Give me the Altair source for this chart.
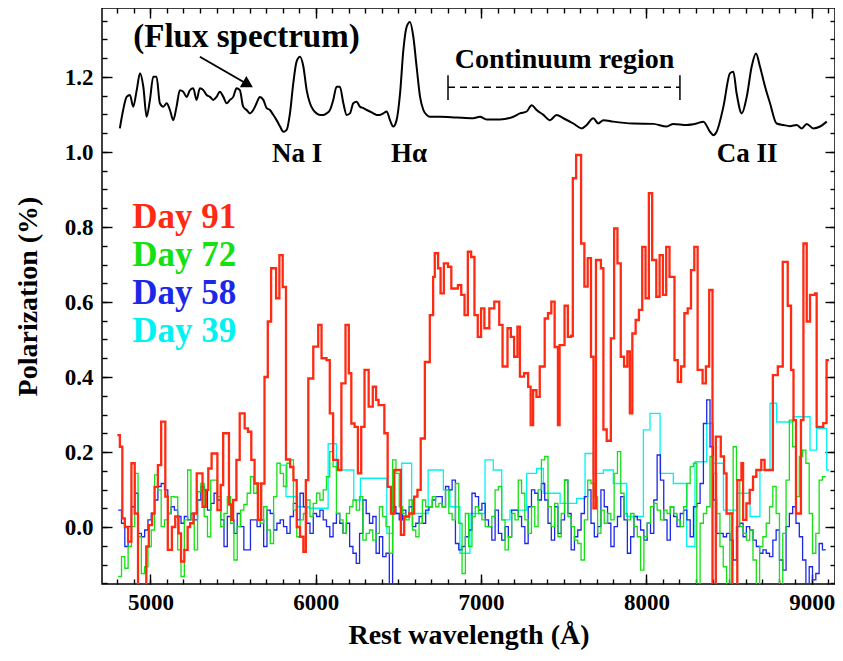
import altair as alt
import pandas as pd

FONT = "Liberation Serif"
X_DOMAIN = [4707, 9141]
Y_DOMAIN = [-0.152, 1.384]

X_MAJOR = [5000, 6000, 7000, 8000, 9000]
X_MINOR = [4800 + 100 * i for i in range(44)]
Y_MAJOR = [0.0, 0.2, 0.4, 0.6, 0.8, 1.0, 1.2]
Y_MINOR = [round(-0.15 + 0.05 * i, 2) for i in range(31)]

# Day 91 (red), irregular bins: bin start wavelength and polarization
RED_WL = [4800, 4815, 4830, 4845, 4865, 4885, 4905, 4925, 4975, 4990,
          5010, 5025, 5045, 5065, 5090, 5105, 5130, 5150, 5170, 5185,
          5205, 5225, 5240, 5260, 5280, 5315, 5335, 5350, 5370, 5405,
          5425, 5440, 5475, 5490, 5500, 5520, 5540, 5570, 5590, 5610,
          5630, 5650, 5670, 5690, 5710, 5730, 5760, 5780, 5800, 5820,
          5845, 5865, 5885, 5905, 5925, 5940, 5955, 5985, 6015, 6035,
          6065, 6085, 6105, 6135, 6155, 6180, 6200, 6215, 6235, 6255,
          6275, 6295, 6320, 6345, 6365, 6380, 6415, 6435, 6455, 6475,
          6515, 6535, 6565, 6595, 6615, 6635, 6660, 6690, 6710, 6720,
          6740, 6755, 6775, 6800, 6820, 6860, 6880, 6900, 6920, 6940,
          6960, 6980, 7000, 7020, 7050, 7080, 7110, 7130, 7160, 7180,
          7200, 7220, 7235, 7260, 7285, 7300, 7315, 7335, 7355, 7385,
          7405, 7425, 7445, 7465, 7475, 7505, 7525, 7545, 7555, 7575,
          7605, 7625, 7645, 7665, 7680, 7695, 7725, 7740, 7760, 7785,
          7805, 7825, 7845, 7865, 7885, 7900, 7915, 7935, 7955, 7975,
          7995, 8015, 8035, 8060, 8080, 8100, 8120, 8140, 8170, 8190,
          8210, 8230, 8250, 8270, 8290, 8310, 8340, 8360, 8380, 8400,
          8420, 8450, 8470, 8485, 8520, 8550, 8575, 8585, 8605, 8625,
          8645, 8665, 8695, 8715, 8765, 8795, 8825, 8855, 8875, 8890,
          8905, 8935, 8950, 8970, 8990, 9020, 9030, 9070, 9090, 9105]
RED_POL = [0.245, 0.214, 0.023, 0.0, -0.039, 0.17, 0.036, -0.2, -0.052, 0.005,
           0.036, 0.107, 0.165, 0.281, 0.081, -0.061, 0.0, 0.028, -0.017, -0.092,
           -0.061, 0.0, 0.01, 0.036, 0.143, 0.054, 0.099, 0.156, 0.196, 0.045,
           0.112, 0.25, 0.06, 0.019, 0.072, 0.179, 0.303, 0.263, 0.254, 0.179,
           0.116, 0.019, 0.116, 0.40, 0.548, 0.69, 0.61, 0.725, 0.64, 0.18,
           0.16, 0.125, 0.0, -0.026, -0.066, 0.125, 0.396, 0.481, 0.539, 0.45,
           0.445, 0.303, 0.179, 0.152, 0.383, 0.539, 0.41, 0.276, 0.267, 0.143,
           0.267, 0.419, 0.321, 0.374, 0.339, 0.325, 0.25, 0.107, 0.036, 0.152,
           -0.021, 0.028, 0.036, 0.081, 0.099, 0.236, 0.44, 0.565, 0.667, 0.73,
           0.69, 0.623, 0.703, 0.694, 0.636, 0.645, 0.619, 0.565, 0.734, 0.72,
           0.565, 0.507, 0.583, 0.53, 0.583, 0.601, 0.539, 0.428, 0.53, 0.507,
           0.454, 0.534, 0.401, 0.41, 0.374, 0.272, 0.365, 0.347, 0.428, 0.556,
           0.57, 0.601, 0.48, 0.272, 0.485, 0.59, 0.507, 0.51, 0.93, 0.992,
           0.756, 0.641, 0.717, 0.454, 0.05, 0.712, 0.69, 0.26, 0.23, 0.503,
           0.796, 0.703, 0.454, 0.428, 0.468, 0.303, 0.516, 0.552, 0.579, 0.747,
           0.61, 0.89, 0.712, 0.614, 0.725, 0.619, 0.747, 0.667, 0.445, 0.387,
           0.428, 0.57, 0.583, 0.685, 0.747, 0.419, 0.383, 0.428, 0.632, -0.2,
           0.241, 0.188, 0.143, 0.036, -0.2, 0.125, 0.17, 0.019, 0.063, 0.099,
           0.134, 0.152, 0.179, 0.152, 0.405, 0.428, 0.707, 0.59, 0.419, 0.285,
           0.036, 0.285, 0.756, 0.548, 0.619, 0.623, 0.267, 0.277, 0.445, 0.445]

# Day 72 (green) and Day 58 (blue): 20 A bins starting at 4805 A
GRID_START = 4805
GRID_STEP = 20
GREEN_POL = [-0.132, -0.079, -0.110, -0.052, 0.001, 0.143, -0.026, -0.124, -0.106, -0.052,
             -0.008, 0.139, 0.099, 0.001, 0.019, 0.036, 0.081, 0.080, -0.061, -0.132,
             0.019, 0.152, 0.019, -0.061, 0.094, 0.116, 0.028, -0.026, 0.125, 0.125,
             0.081, 0.001, 0.036, 0.081, 0.010, -0.088, 0.001, 0.045, 0.060, 0.090,
             0.134, 0.090, 0.116, 0.010, 0.054, -0.008, -0.044, 0.081, 0.170, 0.143,
             0.108, 0.170, 0.179, 0.045, -0.026, 0.019, 0.036, 0.072, 0.028, 0.063,
             0.090, 0.072, 0.099, 0.134, 0.201, 0.161, 0.036, 0.019, -0.017, 0.036,
             0.054, 0.072, 0.045, 0.081, -0.035, -0.017, -0.008, -0.035, -0.017, 0.054,
             0.028, 0.001, -0.070, 0.179, 0.143, 0.054, 0.036, 0.019, 0.072, -0.008,
             -0.026, 0.010, 0.072, 0.054, 0.054, 0.081, 0.054,
             0.063, 0.054, 0.099, 0.036, 0.019, 0.116, 0.010, -0.124, 0.036, -0.052,
             0.028, 0.054, 0.036, 0.019, 0.001, 0.001, 0.028, 0.099, 0.108, 0.019,
             -0.061, -0.026, 0.036, 0.019, 0.125, 0.090, 0.019, -0.017, 0.054, 0.001,
             0.099, 0.179, 0.188, 0.054, 0.001, 0.063, -0.026, 0.036, 0.125, 0.028,
             0.001, -0.035, -0.044, -0.088, 0.019, 0.125, 0.116, 0.081, -0.017, 0.045,
             0.010, 0.036, 0.019, 0.143, 0.201, 0.090, 0.036, 0.019, 0.036, 0.001,
             -0.026, -0.115, -0.026, 0.010, 0.054, 0.063, 0.045, 0.019, 0.045, 0.036,
             0.054, 0.036, 0.019, 0.001, 0.054, 0.116, 0.161, 0.170, -0.170, 0.010,
             0.036, 0.054, 0.188, 0.143, 0.036, -0.052, -0.106, -0.160, 0.036, 0.214,
             0.125, 0.001, -0.017, -0.035, -0.008, -0.088, -0.160, -0.052, -0.026, 0.010,
             0.054, 0.108, 0.036, -0.160, -0.017, 0.125, 0.285, 0.214, 0.081, 0.188,
             0.205, 0.170, 0.036, -0.070, -0.017, 0.125, 0.134]
BLUE_POL = [0.045, 0.010, -0.052, 0.001, 0.054, 0.090, -0.017, -0.026, -0.008, 0.019,
            0.036, 0.072, 0.108, 0.116, 0.099, 0.036, 0.054, 0.045, 0.028, 0.010,
            0.028, 0.019, 0.036, 0.019, 0.072, 0.108, 0.099, 0.045, 0.063, 0.090,
            0.072, 0.019, -0.052, 0.028, 0.019, -0.017, 0.036, 0.001, -0.061, -0.061,
            0.019, 0.019, 0.001, 0.019, -0.052, 0.045, 0.036, -0.008, 0.010, 0.019,
            0.001, -0.017, 0.028, 0.063, 0.019, 0.090, 0.054, 0.010, -0.017, 0.036,
            0.028, 0.045, 0.019, 0.001, -0.026, 0.010, 0.036, 0.010, -0.017, 0.010,
            -0.052, -0.070, -0.097, -0.017, 0.072, 0.036, 0.010, 0.028, -0.070, -0.026,
            -0.079, -0.070, -0.170, 0.054, 0.036, 0.019, 0.045, 0.028, 0.054, 0.001,
            0.010, 0.028, 0.010, 0.045, 0.054, 0.072, 0.081,
            0.081, 0.054, 0.108, 0.099, 0.125, -0.044, -0.061, -0.052, -0.026, -0.008,
            0.090, 0.081, 0.045, 0.063, 0.019, 0.001, -0.035, 0.045, -0.017, -0.035,
            0.001, -0.026, 0.045, 0.045, 0.028, 0.001, -0.044, 0.054, 0.099, 0.090,
            0.072, 0.116, 0.072, 0.010, -0.035, 0.054, -0.017, 0.019, 0.125, 0.036,
            -0.061, -0.026, -0.008, 0.036, 0.081, 0.099, 0.010, -0.026, 0.001, 0.099,
            0.054, 0.010, -0.052, 0.001, 0.028, 0.081, 0.019, -0.070, -0.026, 0.028,
            0.019, -0.008, -0.035, 0.010, -0.017, 0.072, 0.192, 0.125, 0.019, -0.035,
            0.054, 0.028, 0.001, 0.036, 0.045, 0.019, -0.026, 0.054, 0.063, 0.116,
            0.276, 0.339, 0.214, 0.072, -0.017, -0.017, -0.026, -0.017, -0.035, -0.088,
            0.001, 0.010, -0.026, 0.001, -0.008, -0.035, -0.052, -0.070, -0.061, -0.070,
            -0.079, -0.035, -0.008, -0.088, -0.115, 0.001, 0.036, 0.054, 0.010, -0.026,
            -0.088, -0.170, -0.106, -0.141, -0.124, -0.044, -0.061]

# Day 39 (cyan), coarser bins
CYAN_WL = [5790, 5820, 5890, 5960, 6075, 6125, 6230, 6270, 6430, 6465,
           6520, 6580, 6680, 6772, 6812, 6872, 6933, 7024, 7074, 7125,
           7175, 7276, 7336, 7377, 7478, 7578, 7629, 7679, 7740, 7800,
           7881, 7982, 8022, 8083, 8163, 8244, 8294, 8365, 8405, 8466,
           8546, 8627, 8687, 8748, 8788, 8889, 8990, 9030, 9091, 9105]
CYAN_POL = [0.165, 0.081, 0.054, 0.050, 0.222, 0.152, 0.072, 0.13, -0.017, 0.036,
            0.17, 0.036, 0.152, 0.099, 0.054, -0.07, 0.036, 0.179, 0.152, 0.019,
            0.045, 0.143, 0.156, 0.09, 0.063, 0.076, 0.196, 0.143, 0.152, 0.116,
            0.028, 0.259, 0.303, 0.143, 0.116, -0.052, 0.174, 0.276, 0.17, 0.045,
            0.09, 0.028, 0.152, 0.33, 0.28, 0.294, 0.205, 0.263, 0.152, 0.152]

# Flux spectrum (scaled, plotted on the polarization axis)
FLUX_WL = [4815, 4835, 4856, 4876, 4896, 4917, 4937, 4957, 4977, 4997,
           5017, 5037, 5057, 5078, 5098, 5118, 5138, 5158, 5178, 5198,
           5219, 5239, 5259, 5279, 5299, 5320, 5340, 5360, 5380, 5400,
           5420, 5441, 5461, 5481, 5501, 5521, 5541, 5561, 5582, 5602,
           5622, 5642, 5662, 5683, 5703, 5723, 5743, 5763, 5784, 5804,
           5824, 5844, 5864, 5884, 5905, 5925, 5945, 5965, 5985, 6005,
           6026, 6046, 6066, 6086, 6106, 6126, 6146, 6167, 6187, 6207,
           6227, 6247, 6267, 6288, 6308, 6328, 6348, 6368, 6389, 6409,
           6429, 6449, 6469, 6489, 6510, 6530, 6550, 6570, 6590, 6610,
           6631, 6651, 6671, 6691, 6711,
           6752, 6852, 6953, 6993, 7034, 7114, 7195, 7235, 7276, 7306,
           7336, 7377, 7417, 7457, 7498, 7558, 7609, 7639, 7679, 7709,
           7740, 7800, 7921, 8042, 8123, 8163, 8244, 8304, 8345, 8385,
           8405, 8425, 8466, 8506, 8526, 8546, 8577, 8607, 8637, 8663,
           8687, 8718, 8748, 8788, 8829, 8869, 8909, 8940, 8970, 9010,
           9051, 9091]
FLUX_VAL = [1.063, 1.112, 1.147, 1.152, 1.121, 1.165, 1.210, 1.174, 1.094, 1.139,
            1.201, 1.201, 1.130, 1.121, 1.130, 1.112, 1.085, 1.121, 1.165, 1.161,
            1.147, 1.165, 1.170, 1.139, 1.170, 1.165, 1.152, 1.147, 1.139, 1.147,
            1.161, 1.147, 1.130, 1.139, 1.147, 1.170, 1.165, 1.121, 1.112, 1.103,
            1.112, 1.130, 1.147, 1.139, 1.117, 1.112, 1.099, 1.085, 1.068, 1.054,
            1.059, 1.103, 1.183, 1.241, 1.254, 1.228, 1.165, 1.130, 1.112, 1.103,
            1.099, 1.099, 1.103, 1.112, 1.139, 1.174, 1.174, 1.130, 1.099, 1.103,
            1.130, 1.134, 1.121, 1.117, 1.112, 1.108, 1.103, 1.099, 1.099, 1.103,
            1.108, 1.085, 1.068, 1.085, 1.156, 1.272, 1.334, 1.347, 1.308, 1.228,
            1.147, 1.112, 1.099, 1.094, 1.094,
            1.094, 1.092, 1.090, 1.094, 1.087, 1.087, 1.094, 1.103, 1.108, 1.125,
            1.112, 1.099, 1.085, 1.099, 1.090, 1.076, 1.063, 1.072, 1.090, 1.076,
            1.085, 1.081, 1.076, 1.075, 1.068, 1.075, 1.072, 1.076, 1.081, 1.054,
            1.045, 1.054, 1.121, 1.210, 1.214, 1.156, 1.103, 1.147, 1.228, 1.263,
            1.228, 1.174, 1.130, 1.076, 1.072, 1.069, 1.072, 1.063, 1.075, 1.063,
            1.068, 1.081]

LEGEND_LABELS = ["Day 91", "Day 72", "Day 58", "Day 39"]
LEGEND_COLORS = ["#ff2a12", "#14e014", "#1c28e8", "#00f2f2"]
LEGEND_WL = [4890, 4890, 4890, 4890]
LEGEND_POL = [0.797, 0.696, 0.595, 0.493]

LINE_LABELS = ["Na I", "H\u03b1", "Ca II"]
LINE_WL = [5887, 6564, 8609]
LINE_POL = [0.973, 0.973, 0.973]

FLUX_LABEL = "(Flux spectrum)"
FLUX_LABEL_POS = [5581, 1.28]
ARROW_WL = [5299, 5590]
ARROW_POL = [1.254, 1.180]
ARROW_TIP = [5590, 1.180]

CONT_LABEL = "Continuum region"
CONT_LABEL_POS = [7505, 1.224]
CONT_WL = [6800, 8203]
CONT_POL = [1.173, 1.173]
CONT_CAP = [1.139, 1.205]

XS = alt.Scale(domain=X_DOMAIN, nice=False, zero=False)
YS = alt.Scale(domain=Y_DOMAIN, nice=False, zero=False)


def xaxis(orient, values, size, labels, title=None):
    kw = dict(orient=orient, values=values, tickSize=size, offset=-size, domain=False,
              grid=False, tickColor="black", tickWidth=1.4, labels=labels, title=title)
    if labels:
        kw.update(labelFont=FONT, labelFontSize=23, labelFontWeight="bold",
                  labelColor="black", labelPadding=7, format="d",
                  titleFont=FONT, titleFontSize=28, titleFontWeight="bold",
                  titleColor="black", titlePadding=7)
    return alt.Axis(**kw)


def yaxis(orient, values, size, labels, title=None):
    kw = dict(orient=orient, values=values, tickSize=size, offset=-size, domain=False,
              grid=False, tickColor="black", tickWidth=1.4, labels=labels, title=title)
    if labels:
        kw.update(labelFont=FONT, labelFontSize=23, labelFontWeight="bold",
                  labelColor="black", labelPadding=9, format=".1f",
                  titleFont=FONT, titleFontSize=28, titleFontWeight="bold",
                  titleColor="black", titlePadding=22)
    return alt.Axis(**kw)


def step_df(wl, pol):
    return pd.DataFrame({"wl": wl, "pol": pol})


green_wl = [GRID_START + GRID_STEP * i for i in range(len(GREEN_POL) + 1)]
blue_wl = [GRID_START + GRID_STEP * i for i in range(len(BLUE_POL) + 1)]
cyan_df = step_df(CYAN_WL, CYAN_POL)
blue_df = step_df(blue_wl, BLUE_POL + [BLUE_POL[-1]])
green_df = step_df(green_wl, GREEN_POL + [GREEN_POL[-1]])
red_df = step_df(RED_WL, RED_POL)


def series(df, color, width, xa, ya):
    return alt.Chart(df).mark_line(interpolate="step-after", color=color,
                                   strokeWidth=width, clip=True).encode(
        x=alt.X("wl:Q", scale=XS, axis=xa),
        y=alt.Y("pol:Q", scale=YS, axis=ya),
    )


l_cyan = series(cyan_df, LEGEND_COLORS[3], 1.3,
                xaxis("bottom", X_MAJOR, 10, True, "Rest wavelength (\u00c5)"),
                yaxis("left", Y_MAJOR, 10, True, "Polarization (%)"))
l_blue = series(blue_df, LEGEND_COLORS[2], 1.3,
                xaxis("bottom", X_MINOR, 5, False),
                yaxis("left", Y_MINOR, 5, False))
l_green = series(green_df, LEGEND_COLORS[1], 1.3,
                 xaxis("top", X_MAJOR, 10, False),
                 yaxis("right", Y_MAJOR, 10, False))
l_red = series(red_df, LEGEND_COLORS[0], 2.3,
               xaxis("top", X_MINOR, 5, False),
               yaxis("right", Y_MINOR, 5, False))

enc_x = alt.X("wl:Q", scale=XS, axis=None)
enc_y = alt.Y("pol:Q", scale=YS, axis=None)

flux = alt.Chart(pd.DataFrame({"wl": FLUX_WL, "pol": FLUX_VAL})).mark_line(
    color="black", strokeWidth=2, interpolate="monotone", clip=True
).encode(x=enc_x, y=enc_y)

legend_df = pd.DataFrame({"wl": LEGEND_WL, "pol": LEGEND_POL, "label": LEGEND_LABELS})
legend = alt.Chart(legend_df).mark_text(
    font=FONT, fontSize=35, fontWeight="bold", align="left", baseline="alphabetic"
).encode(
    x=enc_x, y=enc_y, text="label:N",
    color=alt.Color("label:N", scale=alt.Scale(domain=LEGEND_LABELS, range=LEGEND_COLORS), legend=None),
)

ann_df = pd.DataFrame({
    "wl": LINE_WL + [FLUX_LABEL_POS[0], CONT_LABEL_POS[0]],
    "pol": LINE_POL + [FLUX_LABEL_POS[1], CONT_LABEL_POS[1]],
    "label": LINE_LABELS + [FLUX_LABEL, CONT_LABEL],
    "kind": ["line", "line", "line", "flux", "cont"],
})
ann_lines = alt.Chart(ann_df).transform_filter(alt.datum.kind == "line").mark_text(
    font=FONT, fontSize=27, fontWeight="bold", align="center", baseline="alphabetic", color="black"
).encode(x=enc_x, y=enc_y, text="label:N")
ann_flux = alt.Chart(ann_df).transform_filter(alt.datum.kind == "flux").mark_text(
    font=FONT, fontSize=33, fontWeight="bold", align="center", baseline="alphabetic", color="black"
).encode(x=enc_x, y=enc_y, text="label:N")
ann_cont = alt.Chart(ann_df).transform_filter(alt.datum.kind == "cont").mark_text(
    font=FONT, fontSize=28, fontWeight="bold", align="center", baseline="alphabetic", color="black"
).encode(x=enc_x, y=enc_y, text="label:N")

arrow_line = alt.Chart(pd.DataFrame({"wl": ARROW_WL, "pol": ARROW_POL})).mark_line(
    color="black", strokeWidth=2
).encode(x=enc_x, y=enc_y)
arrow_head = alt.Chart(pd.DataFrame({"wl": [ARROW_TIP[0]], "pol": [ARROW_TIP[1]]})).mark_point(
    shape="triangle-right", angle=30, size=170, filled=True, color="black", opacity=1
).encode(x=enc_x, y=enc_y)

cont_line = alt.Chart(pd.DataFrame({"wl": CONT_WL, "pol": CONT_POL})).mark_line(
    color="black", strokeWidth=1.5, strokeDash=[7, 5]
).encode(x=enc_x, y=enc_y)
cont_caps = alt.Chart(pd.DataFrame({"wl": CONT_WL, "lo": [CONT_CAP[0]] * 2, "hi": [CONT_CAP[1]] * 2})).mark_rule(
    color="black", strokeWidth=1.5
).encode(x=enc_x, y=alt.Y("lo:Q", scale=YS, axis=None), y2="hi:Q")

chart = alt.layer(
    l_cyan, l_blue, l_green, l_red, flux, legend, ann_lines, ann_flux, ann_cont,
    arrow_line, arrow_head, cont_line, cont_caps,
).resolve_axis(x="independent", y="independent").properties(
    width=733, height=576,
    padding={"left": 94, "top": 0, "right": 0, "bottom": 69},
    autosize=alt.AutoSizeParams(type="none"),
).configure_view(stroke="black", strokeWidth=1.5)

chart.save("out.html", embed_options={"renderer": "svg", "actions": False})
